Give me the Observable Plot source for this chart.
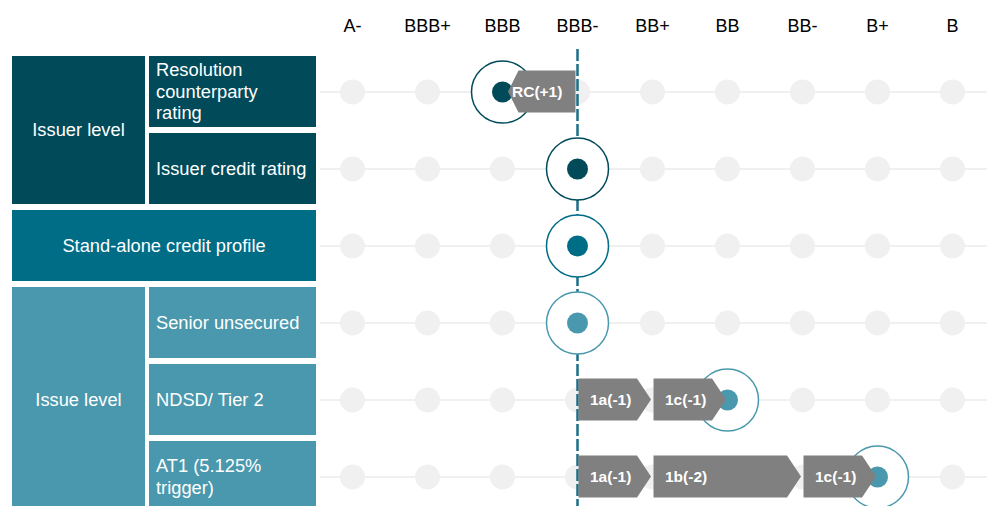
<!DOCTYPE html>
<html><head><meta charset="utf-8">
<script src="https://cdn.jsdelivr.net/npm/d3@7"></script>
<script src="https://cdn.jsdelivr.net/npm/@observablehq/plot@0.6"></script>
<style>
body{margin:0;background:#fff;font-family:"Liberation Sans",Arial,Helvetica,sans-serif;}
#wrap{position:relative;width:987px;height:506px;overflow:hidden;background:#fff;}
#wrap svg{position:absolute;left:0;top:0;}
.panel{position:absolute;display:flex;align-items:center;color:#fff;font-size:18.3px;line-height:1.2;box-sizing:border-box;white-space:pre-line;}
.panel.center{justify-content:center;text-align:center;}
.panel.left{padding-left:7px;padding-right:3px;}
</style></head><body><div id="wrap"></div>
<script>
// ---- data ----
const ratings = ["A-","BBB+","BBB","BBB-","BB+","BB","BB-","B+","B"];
const rows = ["Resolution\ncounterparty\nrating","Issuer credit rating","Stand-alone credit profile","Senior unsecured","NDSD/ Tier 2","AT1 (5.125%\ntrigger)"];
const rowLevels = ["Issuer level","Issuer level","Stand-alone credit profile","Issue level","Issue level","Issue level"];
const ringRatings = ["BBB","BBB-","BBB-","BBB-","BB","B+"];
const anchorRating = "BBB-";
const arrowRows = [0,4,4,5,5,5];
const arrowFrom = ["BBB-","BBB-","BB+","BBB-","BB+","BB-"];
const arrowTo = ["BBB","BB+","BB","BB+","BB-","B+"];
const arrowLabels = ["RC(+1)","1a(-1)","1c(-1)","1a(-1)","1b(-2)","1c(-1)"];

// ---- styles ----
const levelColor = {"Issuer level":"#004a5a","Stand-alone credit profile":"#006d87","Issue level":"#4a98ad"};
const GRAY_DOT = "#f0f0f0";
const ARROW_FILL = "#808080";
const LINE_COLOR = "#1b6e88";
const ARROW_H = 42;
const FONT = '"Liberation Sans", Arial, Helvetica, sans-serif';

// ---- derived tables ----
const grid = rows.flatMap(r => ratings.map(k => ({row: r, rating: k})));
const rings = rows.map((r, i) => ({row: r, rating: ringRatings[i], level: rowLevels[i]}));
const arrows = arrowRows.map((ri, i) => ({row: rows[ri], from: arrowFrom[i], to: arrowTo[i], label: arrowLabels[i],
  dir: Math.sign(ratings.indexOf(arrowTo[i]) - ratings.indexOf(arrowFrom[i]))}));

function arrowMark(index, scales) {
  const x = scales.x, y = scales.y;
  const bw = typeof y.bandwidth === "function" ? y.bandwidth() : 0;
  const g = d3.create("svg:g").attr("fill", ARROW_FILL);
  for (const a of arrows) {
    const xa = x(a.from), xb = x(a.to);
    const dir = a.dir;
    const yc = y(a.row) + bw / 2;
    const h = ARROW_H / 2;
    const tipW = dir > 0 ? 14 : 10.5;
    const start = xa + dir * 1.5;
    const tip = dir > 0 ? xb - 1 : xb + 6;
    const neck = tip - dir * tipW;
    g.append("path").attr("d", `M${start},${yc-h}L${neck},${yc-h}L${tip},${yc}L${neck},${yc+h}L${start},${yc+h}Z`);
  }
  return g.node();
}

const plot = Plot.plot({
  width: 987,
  height: 506,
  marginLeft: 320,
  marginRight: 0,
  marginTop: 49,
  marginBottom: 0,
  style: {fontFamily: FONT, background: "transparent", overflow: "visible"},
  x: {type: "point", domain: ratings, range: [350, 954], padding: 0, axis: null},
  y: {type: "band", domain: rows, range: [52.4, 516], paddingInner: 0.075, paddingOuter: 0.0375, axis: null},
  marks: [
    Plot.ruleY(rows, {y: d => d, stroke: GRAY_DOT, strokeWidth: 2}),
    Plot.dot(grid, {x: "rating", y: "row", r: 12.5, fill: GRAY_DOT}),
    Plot.ruleX([anchorRating], {x: d => d, stroke: LINE_COLOR, strokeWidth: 2.5, strokeDasharray: "12,3"}),
    Plot.dot(rings, {x: "rating", y: "row", r: 31, fill: "white", stroke: d => levelColor[d.level], strokeWidth: 1.5}),
    Plot.dot(rings, {x: "rating", y: "row", r: 10.5, fill: d => levelColor[d.level]}),
    arrowMark,
    Plot.text(arrows.filter(a => a.dir > 0), {x: "from", y: "row", text: "label", textAnchor: "start", dx: 12.5,
      fill: "white", fontWeight: "bold", fontSize: 15.5}),
    Plot.text(arrows.filter(a => a.dir < 0), {x: "to", y: "row", text: "label", textAnchor: "start", dx: 9.5,
      fill: "white", fontWeight: "bold", fontSize: 15.5}),
    Plot.text(ratings, {x: d => d, frameAnchor: "top", dy: -30, text: d => d, fontSize: 18, fill: "#000"})
  ]
});

const wrap = document.getElementById("wrap");
wrap.appendChild(plot);

// ---- row panels positioned from the y scale ----
const ys = plot.scale("y");
const bw = ys.bandwidth;
function addPanel(text, left, top, width, height, color, cls) {
  const d = document.createElement("div");
  d.className = "panel " + cls;
  Object.assign(d.style, {left: left + "px", top: top + "px", width: width + "px", height: height + "px", background: color});
  d.textContent = text;
  wrap.appendChild(d);
}
const levels = [...new Set(rowLevels)];
for (const lv of levels) {
  const idx = rowLevels.map((l, i) => l === lv ? i : -1).filter(i => i >= 0);
  const top = ys.apply(rows[idx[0]]);
  const bottom = ys.apply(rows[idx[idx.length - 1]]) + bw;
  const single = idx.length === 1 && rows[idx[0]] === lv;
  addPanel(lv, 12, top, single ? 304 : 133, bottom - top, levelColor[lv], "center");
  if (!single) idx.forEach(i => addPanel(rows[i], 149, ys.apply(rows[i]), 167, bw, levelColor[lv], "left"));
}
</script></body></html>
